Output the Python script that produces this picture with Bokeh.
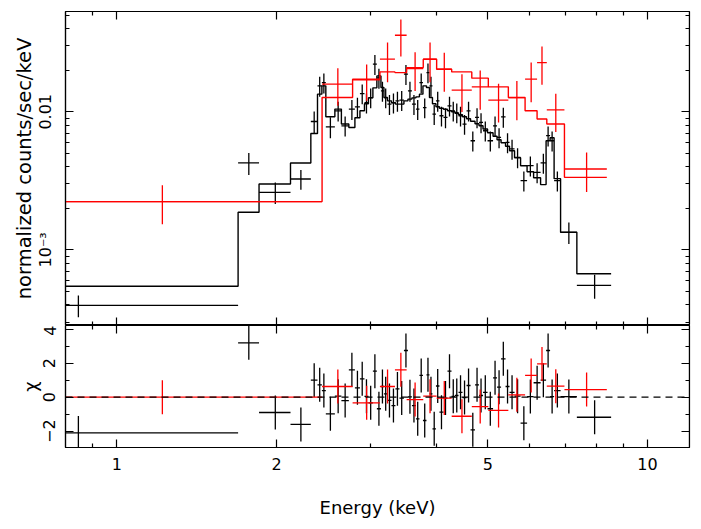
import numpy as np
from bokeh.plotting import figure
from bokeh.models import (Range1d, LogAxis, LinearAxis, FixedTicker,
                          CustomJSTickFormatter, Span)
from bokeh.layouts import column
from bokeh.embed import file_html
from bokeh.resources import INLINE

# ---------------- data ----------------
# black spectrum: bin edges (keV), rate, 1-sigma error, folded model, residual (chi)
black_edges = [0.0, 1.692, 1.853, 2.124, 2.320,
               2.388, 2.434, 2.476, 2.575, 2.649, 2.736, 2.809, 2.871, 2.928, 2.979,
               3.037, 3.090, 3.145, 3.186, 3.235, 3.292, 3.349, 3.408, 3.475, 3.536,
               3.598, 3.661, 3.717, 3.774, 3.832, 3.882, 3.933, 3.993, 4.054, 4.126,
               4.198, 4.272, 4.337, 4.404, 4.481, 4.560, 4.640, 4.731, 4.814, 4.898,
               4.995, 5.116, 5.205, 5.297, 5.401, 5.495, 5.616, 5.765, 5.930, 6.100,
               6.288, 6.440, 6.553, 6.668, 6.858, 7.360, 8.540]
black_rate = [3.96e-4, 4.26e-3, 2.61e-3, 3.26e-3, 8.51e-3,
              0.01542, 0.01629, 0.00779, 0.01017, 0.00792, 0.01046, 0.01087, 0.01356, 0.01167, 0.01269,
              0.02213, 0.01762, 0.01418, 0.01269, 0.01137, 0.01167, 0.01201, 0.01215, 0.01874, 0.01418,
              0.01137, 0.01046, 0.01629, 0.01074, 0.01924, 0.01542, 0.00963, 0.01201, 0.00936, 0.00910,
              0.01105, 0.01017, 0.00988, 0.00936, 0.00815, 0.01017, 0.00617, 0.00910, 0.00837, 0.00729,
              0.00617, 0.00792, 0.00652, 0.00920, 0.00600, 0.00538, 0.00467, 0.00317, 0.00407, 0.00364,
              0.00426, 0.00671, 0.00617, 0.00317, 0.00134, 0.000552]
black_err = [7.1e-5, 7.7e-4, 4.65e-4, 5.3e-4, 1.55e-3,
             0.00254, 0.00269, 0.00135, 0.00168, 0.00131, 0.00173, 0.00179, 0.00224, 0.00193, 0.00209,
             0.00365, 0.00291, 0.00234, 0.00209, 0.00188, 0.00193, 0.00198, 0.00200, 0.00309, 0.00234,
             0.00188, 0.00173, 0.00269, 0.00177, 0.00317, 0.00254, 0.00159, 0.00198, 0.00154, 0.00150,
             0.00182, 0.00168, 0.00163, 0.00154, 0.00134, 0.00168, 0.00102, 0.00150, 0.00138, 0.00120,
             0.00102, 0.00131, 0.00108, 0.00152, 0.00099, 0.00089, 0.00077, 0.00052, 0.00067, 0.00060,
             0.00070, 0.00111, 0.00102, 0.00052, 0.00024, 0.000109]
black_model = [5.45e-4, 1.87e-3, 3.0e-3, 4.26e-3, 6.97e-3,
               0.01343, 0.01542, 0.00920, 0.01046, 0.00815, 0.00770, 0.00905, 0.01017, 0.01143, 0.01262,
               0.01491, 0.01821, 0.01499, 0.01269, 0.01201, 0.01162, 0.01137, 0.01137, 0.01201, 0.01236,
               0.01262, 0.01283, 0.01343, 0.01542, 0.01499, 0.01269, 0.01143, 0.01087, 0.01060, 0.01043,
               0.01017, 0.01000, 0.00975, 0.00951, 0.00920, 0.00890, 0.00854, 0.00819, 0.00792, 0.00750,
               0.00705, 0.00665, 0.00627, 0.00597, 0.00563, 0.00522, 0.00465, 0.00407, 0.00368, 0.00333,
               0.00297, 0.00617, 0.00648, 0.00328, 0.00134, 0.000671]
black_chi = [-2.1, 3.2, -0.9, -1.6, 1.0,
             0.73, 0.39, -0.98, 0.06, -0.2, 1.61, 0.55, 1.08, 0.05, -0.33,
             1.53, -0.68, 0.63, 0.2, -0.19, -0.49, 0.49, -0.05, 2.75, 0.02,
             -0.49, -1.27, 1.28, -1.37, 1.32, 0.2, -1.86, 0.66, -0.88, -0.05,
             1.53, 0.05, 0.1, 0.29, -0.02, 0.69, -1.92, 0.73, 0.1, 0.29,
             -0.68, 1.14, 0.59, 2.26, 0.63, 0.29, 0.06, -1.53, 0.04, 0.85,
             1.0, 2.75, 0.04, 0.39, 0.04, -1.18]

# red spectrum
red_edges = [0.0, 2.436, 2.781, 3.131, 3.342, 3.516, 3.779, 4.005, 4.275,
             4.665, 5.012, 5.467, 5.879, 6.193, 6.460, 6.974, 8.382]
red_rate = [0.002235, 0.01586, 0.01703, 0.02405, 0.03586, 0.02056, 0.02405, 0.02036,
            0.01435, 0.01516, 0.01215, 0.01269, 0.01723, 0.02272, 0.01034, 0.00385]
red_err = [0.0007, 0.0048, 0.0050, 0.0077, 0.0107, 0.0064, 0.0077, 0.0064,
           0.0044, 0.0048, 0.0038, 0.0040, 0.0055, 0.0070, 0.0032, 0.00123]
red_model = [0.002235, 0.01269, 0.01723, 0.01946, 0.01924, 0.02091, 0.02405, 0.02036,
             0.01946, 0.01753, 0.01516, 0.01269, 0.01017, 0.00886, 0.00815, 0.00335]
red_chi = [0.0, 0.63, -0.33, 0.63, 1.61, -0.14, 0.06, -0.05,
           -1.12, -0.55, -0.78, 0.14, 1.28, 1.96, 0.65, 0.45]

x_major = [1, 2, 5, 10]
x_minor = [0.9, 3, 4, 6, 7, 8, 9]
y_major = [1e-3, 1e-2]
y_minor = [3e-4, 4e-4, 5e-4, 6e-4, 7e-4, 8e-4, 9e-4,
           2e-3, 3e-3, 4e-3, 5e-3, 6e-3, 7e-3, 8e-3, 9e-3,
           2e-2, 3e-2, 4e-2, 5e-2]
chi_major = [-2, 0, 2, 4]
chi_minor = [-3, -1, 1, 3]

FONT = "DejaVu Sans"
BLACK = "#000000"
RED = "#ff0000"


def prep(edges):
    e = np.array(edges, dtype=float)
    c = (e[:-1] + e[1:]) / 2.0
    e_plot = np.where(e > 0, e, 0.5)   # bins that start at 0 run off the left edge
    return e_plot, c


def style(ax, labels=True, size="16px"):
    ax.major_tick_in = 8
    ax.major_tick_out = 0
    ax.minor_tick_in = 4
    ax.minor_tick_out = 0
    ax.axis_line_color = BLACK
    ax.axis_line_width = 1.2
    ax.major_tick_line_color = BLACK
    ax.minor_tick_line_color = BLACK
    ax.major_tick_line_width = 1.2
    ax.minor_tick_line_width = 1.2
    ax.major_label_text_font = FONT
    ax.major_label_text_font_size = size
    ax.major_label_text_color = BLACK
    ax.axis_label_text_font = FONT
    ax.axis_label_text_font_size = "18px"
    ax.axis_label_text_font_style = "normal"
    ax.axis_label_text_color = BLACK
    if not labels:
        ax.formatter = CustomJSTickFormatter(code="return ''")


xr = Range1d(0.8, 12.0)
LEFT = 65

# ---------------- top panel ----------------
p1 = figure(frame_width=624, frame_height=314, x_axis_type="log", y_axis_type="log",
            x_range=xr, y_range=Range1d(2.83e-4, 0.0533),
            x_axis_location=None, y_axis_location=None,
            toolbar_location=None, output_backend="svg",
            min_border_left=LEFT, min_border_right=4, min_border_top=11, min_border_bottom=0)
p1.outline_line_color = BLACK
p1.outline_line_width = 1.2
p1.xgrid.visible = False
p1.ygrid.visible = False

for edges, rate, err, model, col in [(black_edges, black_rate, black_err, black_model, BLACK),
                                     (red_edges, red_rate, red_err, red_model, RED)]:
    e, c = prep(edges)
    r = np.array(rate)
    s = np.array(err)
    m = np.array(model)
    p1.step(x=e, y=np.append(m, m[-1]), mode="after", line_color=col, line_width=1.4)
    p1.segment(x0=e[:-1], y0=r, x1=e[1:], y1=r, line_color=col, line_width=1.3)
    p1.segment(x0=c, y0=r - s, x1=c, y1=r + s, line_color=col, line_width=1.3)

yl = LogAxis(ticker=FixedTicker(ticks=y_major, minor_ticks=y_minor),
             formatter=CustomJSTickFormatter(code="return tick < 0.005 ? '10\u207b\u00b3' : '0.01'"),
             axis_label="normalized counts/sec/keV")
style(yl)
yl.axis_label_text_font_size = "19.5px"
yl.major_label_orientation = "vertical"
yl.major_label_standoff = 10
yl.axis_label_standoff = -2
p1.add_layout(yl, "left")

yr = LogAxis(ticker=FixedTicker(ticks=y_major, minor_ticks=y_minor), fixed_location=12.0)
style(yr, labels=False)
p1.add_layout(yr, "right")

xt = LogAxis(ticker=FixedTicker(ticks=x_major, minor_ticks=x_minor), fixed_location=0.0533)
style(xt, labels=False)
p1.add_layout(xt, "above")

xb = LogAxis(ticker=FixedTicker(ticks=x_major, minor_ticks=x_minor), fixed_location=2.83e-4)
style(xb, labels=False)
p1.add_layout(xb, "below")

# ---------------- residual panel ----------------
p2 = figure(frame_width=624, frame_height=122, x_axis_type="log",
            x_range=xr, y_range=Range1d(-2.96, 4.22),
            x_axis_location=None, y_axis_location=None,
            toolbar_location=None, output_backend="svg",
            min_border_left=LEFT, min_border_right=4, min_border_top=0, min_border_bottom=76)
p2.outline_line_color = BLACK
p2.outline_line_width = 1.2
p2.xgrid.visible = False
p2.ygrid.visible = False

p2.add_layout(Span(location=0, dimension="width", line_color=BLACK,
                   line_width=1.2, line_dash="7 5"))

for edges, chi, col in [(black_edges, black_chi, BLACK), (red_edges, red_chi, RED)]:
    e, c = prep(edges)
    q = np.array(chi)
    p2.segment(x0=e[:-1], y0=q, x1=e[1:], y1=q, line_color=col, line_width=1.3)
    p2.segment(x0=c, y0=q - 1, x1=c, y1=q + 1, line_color=col, line_width=1.3)

cl = LinearAxis(ticker=FixedTicker(ticks=chi_major, minor_ticks=chi_minor),
                formatter=CustomJSTickFormatter(
                    code="return tick < 0 ? '\u2212' + Math.abs(tick) : String(tick)"),
                axis_label="\u03c7")
style(cl)
cl.major_label_orientation = "vertical"
cl.major_label_standoff = 10
cl.axis_label_standoff = 0
p2.add_layout(cl, "left")

cr = LinearAxis(ticker=FixedTicker(ticks=chi_major, minor_ticks=chi_minor), fixed_location=12.0)
style(cr, labels=False)
p2.add_layout(cr, "right")

ct = LogAxis(ticker=FixedTicker(ticks=x_major, minor_ticks=x_minor), fixed_location=4.22)
style(ct, labels=False)
p2.add_layout(ct, "above")

cb = LogAxis(ticker=FixedTicker(ticks=x_major, minor_ticks=x_minor),
             formatter=CustomJSTickFormatter(code="return String(tick)"),
             axis_label="Energy (keV)")
style(cb)
cb.major_label_standoff = 10
cb.axis_label_standoff = 24
p2.add_layout(cb, "below")

layout = column(p1, p2)
open("out.html", "w").write(file_html(layout, INLINE))
